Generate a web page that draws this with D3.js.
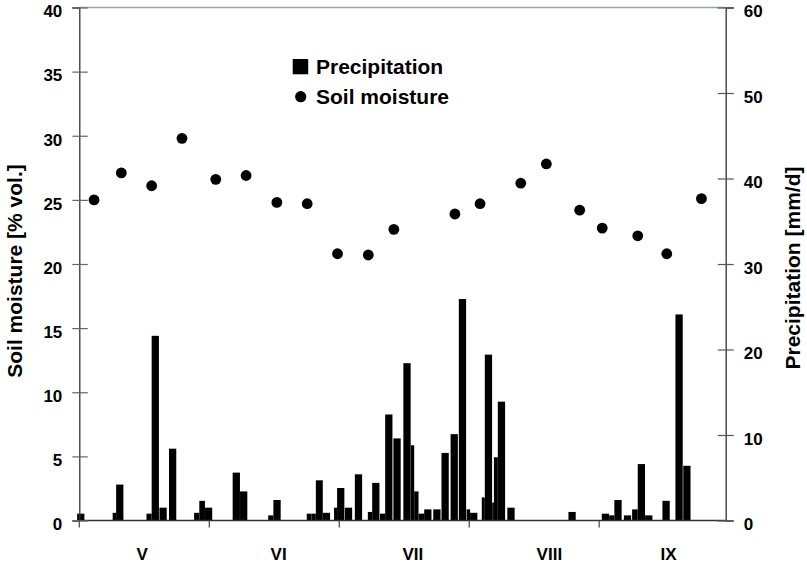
<!DOCTYPE html>
<html>
<head>
<meta charset="utf-8">
<script src="https://cdn.jsdelivr.net/npm/d3@7/dist/d3.min.js"></script>
<style>
  body { margin: 0; background: #fff; }
  text { font-family: "Liberation Sans", Arial, sans-serif; font-weight: bold; fill: #000; }
</style>
</head>
<body>
<div id="chart"></div>
<script>
// days are counted from 1 May (day 0), one month ~ 30 days on the axis
var moistureDay = [3.4, 9.7, 16.7, 23.7, 31.5, 38.5, 45.6, 52.6, 59.6, 66.7,
                   72.6, 86.7, 92.5, 101.9, 107.8, 115.5, 120.7, 128.9, 135.6, 143.6];
var moisture    = [25.0, 27.1, 26.1, 29.8, 26.6, 26.9, 24.8, 24.7, 20.8, 20.7,
                   22.7, 23.9, 24.7, 26.3, 27.8, 24.2, 22.8, 22.2, 20.8, 25.1];

var precipDay = [-0.5, 7.7, 8.5, 15.5, 16.7, 18.5, 20.7, 26.5, 27.7, 29.0,
                 35.4, 37.1, 43.6, 44.8, 52.5, 53.6, 54.6, 56.2, 58.8, 59.5,
                 61.3, 63.6, 66.6, 67.6, 69.4, 70.6, 72.5, 74.8, 76.5, 77.3,
                 78.3, 79.6, 81.7, 83.6, 85.7, 87.6, 89.4, 90.2, 92.9, 93.6,
                 95.3, 95.7, 96.6, 98.8, 112.9, 120.6, 122.3, 123.5, 125.7, 127.6,
                 128.9, 130.6, 134.6, 137.6, 139.4];
var precip    = [0.8, 0.9, 4.2, 0.8, 21.6, 1.5, 8.4, 0.9, 2.3, 1.5,
                 5.6, 3.4, 0.6, 2.4, 0.8, 0.8, 4.7, 0.9, 1.5, 3.8,
                 1.5, 5.4, 1.0, 4.4, 0.8, 12.4, 9.6, 18.4, 8.8, 3.4,
                 0.8, 1.3, 1.3, 7.9, 10.1, 25.9, 1.3, 0.9, 2.7, 19.4,
                 2.1, 7.4, 13.9, 1.5, 1.0, 0.8, 0.6, 2.4, 0.6, 1.3,
                 6.6, 0.6, 2.3, 24.1, 6.4];

var monthNames = ["V", "VI", "VII", "VIII", "IX"];
var monthStart = [0, 30, 60, 90, 120];
var monthMid   = [14.5, 46, 77, 108.5, 136];

var moistureTicks = [0, 5, 10, 15, 20, 25, 30, 35, 40];
var precipTicks   = [0, 10, 20, 30, 40, 50, 60];

var svgWidth = 807, svgHeight = 567;
var margin = {top: 7.5, right: 81.3, bottom: 46.5, left: 79.3};
var width = svgWidth - margin.left - margin.right,
    height = svgHeight - margin.top - margin.bottom;

var svg = d3.select('#chart').append('svg')
  .attr('width', svgWidth)
  .attr('height', svgHeight);
var g = svg.append('g')
  .attr('transform', 'translate(' + margin.left + ',' + margin.top + ')');

var x = d3.scaleLinear().domain([0, 149.2]).range([0, width]);
var yL = d3.scaleLinear().domain([0, 40]).range([height, 0]);
var yR = d3.scaleLinear().domain([0, 60]).range([height, 0]);

var barDays = 1.68;   // nominal bar width in days

// top frame line
g.append('line')
  .attr('x1', 0).attr('x2', width)
  .attr('y1', 0).attr('y2', 0)
  .attr('stroke', '#9aa3a6').attr('stroke-width', 1.3);

// precipitation bars, each cut where the next one begins
var bars = precipDay.map(function(d, i) {
  var next = i < precipDay.length - 1 ? precipDay[i + 1] : Infinity;
  return {day: d, end: Math.min(d + barDays, next), value: precip[i]};
});
g.append('g').selectAll('rect')
  .data(bars)
  .enter().append('rect')
  .attr('x', function(d) { return x(d.day); })
  .attr('width', function(d) { return x(d.end) - x(d.day); })
  .attr('y', function(d) { return yR(d.value); })
  .attr('height', function(d) { return yR(0) - yR(d.value); })
  .attr('fill', '#000');

// x axis: month boundaries, labels in between
var xAxis = g.append('g')
  .attr('transform', 'translate(0,' + height + ')');
xAxis.append('line')
  .attr('x1', 0).attr('x2', width)
  .attr('stroke', '#333').attr('stroke-width', 1.3);
xAxis.selectAll('.mtick')
  .data(monthStart)
  .enter().append('line')
  .attr('class', 'mtick')
  .attr('x1', function(d) { return x(d); })
  .attr('x2', function(d) { return x(d); })
  .attr('y1', 0).attr('y2', 7)
  .attr('stroke', '#444').attr('stroke-width', 1.2);
xAxis.selectAll('.mlabel')
  .data(monthNames)
  .enter().append('text')
  .attr('class', 'mlabel')
  .attr('x', function(d, i) { return x(monthMid[i]); })
  .attr('y', 39)
  .attr('text-anchor', 'middle')
  .style('font-size', '17px')
  .text(function(d) { return d; });

// left axis
var left = g.append('g')
  .call(d3.axisLeft(yL).tickValues(moistureTicks).tickSize(7).tickPadding(10));
left.select('.domain').attr('stroke', '#333').attr('stroke-width', 1.3);
left.selectAll('.tick line').attr('x1', 8.5).attr('stroke', '#666').attr('stroke-width', 1.2);
left.selectAll('.tick text')
  .attr('dy', '0.55em')
  .style('font-size', '17px')
  .style('font-family', '"Liberation Sans", Arial, sans-serif')
  .style('font-weight', 'bold');

// right axis
var right = g.append('g')
  .attr('transform', 'translate(' + width + ',0)')
  .call(d3.axisRight(yR).tickValues(precipTicks).tickSize(8).tickPadding(10));
right.select('.domain').attr('stroke', '#333').attr('stroke-width', 1.3);
right.selectAll('.tick line').attr('x1', -8).attr('stroke', '#555').attr('stroke-width', 1.2);
right.selectAll('.tick text')
  .attr('dy', '0.55em')
  .style('font-size', '17px')
  .style('font-family', '"Liberation Sans", Arial, sans-serif')
  .style('font-weight', 'bold');

// soil moisture points
g.append('g').selectAll('circle')
  .data(moisture)
  .enter().append('circle')
  .attr('cx', function(d, i) { return x(moistureDay[i]); })
  .attr('cy', function(d) { return yL(d); })
  .attr('r', 5.4)
  .attr('fill', '#000');

// axis titles
svg.append('text')
  .attr('transform', 'translate(21.5,271) rotate(-90)')
  .attr('text-anchor', 'middle')
  .style('font-size', '21px')
  .text('Soil moisture [% vol.]');
svg.append('text')
  .attr('transform', 'translate(799.5,268) rotate(-90)')
  .attr('text-anchor', 'middle')
  .style('font-size', '21px')
  .text('Precipitation [mm/d]');

// legend
var legend = svg.append('g');
legend.append('rect')
  .attr('x', 292.7).attr('y', 59)
  .attr('width', 15.5).attr('height', 15.3)
  .attr('fill', '#000');
legend.append('text')
  .attr('x', 316).attr('y', 74.3)
  .style('font-size', '21px')
  .text('Precipitation');
legend.append('circle')
  .attr('cx', 300.7).attr('cy', 96.7).attr('r', 5.6)
  .attr('fill', '#000');
legend.append('text')
  .attr('x', 316).attr('y', 104.3)
  .style('font-size', '21px')
  .text('Soil moisture');
</script>
</body>
</html>
